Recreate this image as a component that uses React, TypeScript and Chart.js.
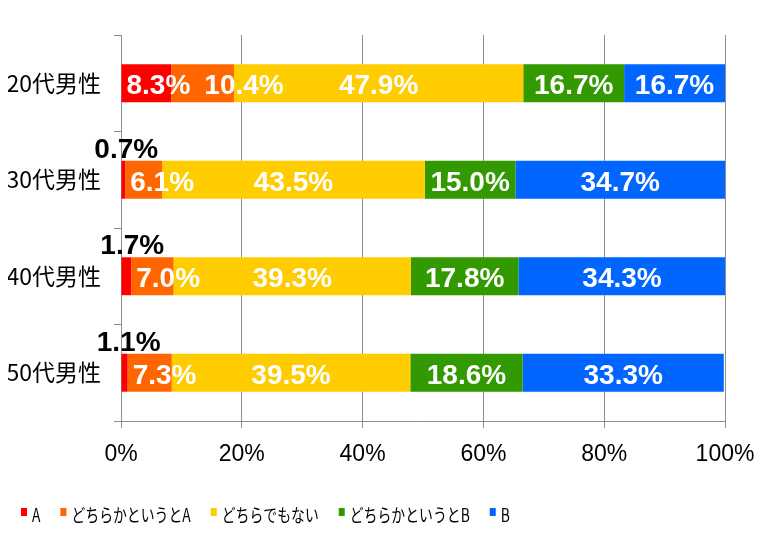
import React, { useEffect, useRef } from 'react';
import { Chart, registerables } from 'chart.js';

Chart.register(...registerables);

const categories = ['20代男性', '30代男性', '40代男性', '50代男性'];
const seriesNames = ['A', 'どちらかというとA', 'どちらでもない', 'どちらかというとB', 'B'];
const valuesA = [8.3, 0.7, 1.7, 1.1];
const valuesLeanA = [10.4, 6.1, 7.0, 7.3];
const valuesNeutral = [47.9, 43.5, 39.3, 39.5];
const valuesLeanB = [16.7, 15.0, 17.8, 18.6];
const valuesB = [16.7, 34.7, 34.3, 33.3];
const xTickValues = [0, 20, 40, 60, 80, 100];
const seriesColors = ['#ff0000', '#ff6600', '#ffcc00', '#339900', '#0066ff'];

const GRID = '#8e8e8e';
const LABEL_FONT = 'bold 28px "Liberation Sans", Arial, sans-serif';
const LEGEND_FONT = '18px "Noto Sans CJK JP", sans-serif';
const LEGEND_SQUEEZE = 0.77;

const valueLabels = {
  id: 'valueLabels',
  afterDatasetsDraw(chart: any) {
    const ctx = chart.ctx;
    ctx.save();
    ctx.font = LABEL_FONT;
    ctx.textAlign = 'left';
    ctx.textBaseline = 'alphabetic';
    const n = chart.data.labels.length;
    for (let j = 0; j < n; j++) {
      let prevEnd = -Infinity;
      chart.data.datasets.forEach((ds: any, i: number) => {
        const el = chart.getDatasetMeta(i).data[j];
        const v = ds.data[j];
        const text = v.toFixed(1) + '%';
        const w = ctx.measureText(text).width;
        const start = Math.min(el.base, el.x);
        const end = Math.max(el.base, el.x);
        const segW = end - start;
        const top = el.y - el.height / 2;
        if (segW < 15) {
          ctx.fillStyle = '#000';
          ctx.fillText(text, end + 1 - w / 2, top - 3);
        } else {
          let left = w + 6 <= segW ? (start + end) / 2 - w / 2 : start + 5;
          left = Math.max(left, prevEnd + 14);
          ctx.fillStyle = '#fff';
          ctx.fillText(text, left, el.y + 11);
          prevEnd = left + w;
        }
      });
    }
    ctx.restore();
  },
};

const bottomLegend = {
  id: 'bottomLegend',
  afterDraw(chart: any) {
    const ctx = chart.ctx;
    ctx.save();
    ctx.font = LEGEND_FONT;
    ctx.textAlign = 'left';
    ctx.textBaseline = 'middle';
    let x = 13;
    const yMid = 507;
    seriesNames.forEach((name, i) => {
      ctx.fillStyle = seriesColors[i];
      ctx.fillRect(x, yMid - 7, 6, 8);
      ctx.fillStyle = '#000';
      ctx.save();
      ctx.translate(x + 11, yMid);
      ctx.scale(LEGEND_SQUEEZE, 1);
      ctx.fillText(name, 0, 0);
      ctx.restore();
      x += 11 + ctx.measureText(name).width * LEGEND_SQUEEZE + 20;
    });
    ctx.restore();
  },
};

export default function App() {
  const ref = useRef<HTMLCanvasElement | null>(null);
  useEffect(() => {
    if (!ref.current) return;
    const seriesValues = [valuesA, valuesLeanA, valuesNeutral, valuesLeanB, valuesB];
    const chart = new Chart(ref.current, {
      type: 'bar',
      data: {
        labels: categories,
        datasets: seriesNames.map((name, i) => ({
          label: name,
          data: seriesValues[i],
          backgroundColor: seriesColors[i],
          borderWidth: 0,
          categoryPercentage: 1,
          barPercentage: 0.393,
        })),
      },
      options: {
        indexAxis: 'y',
        responsive: false,
        devicePixelRatio: 1,
        animation: false,
        layout: { padding: { top: 27, right: 33, bottom: 0, left: 0 } },
        plugins: {
          legend: { display: false },
          tooltip: { enabled: false },
        },
        scales: {
          x: {
            stacked: true,
            min: 0,
            max: 100,
            afterBuildTicks: (s: any) => {
              s.ticks = xTickValues.map((v) => ({ value: v }));
            },
            afterFit: (s: any) => {
              s.height = 121;
              s.paddingRight = 0;
              s.paddingLeft = 0;
            },
            ticks: {
              callback: (v: any) => v + '%',
              color: '#000',
              font: { size: 23, family: '"Liberation Sans", Arial, sans-serif' },
              padding: 13,
              maxRotation: 0,
            },
            grid: { color: GRID, tickLength: 7 },
            border: { color: GRID },
          },
          y: {
            stacked: true,
            afterFit: (s: any) => {
              s.width = 113;
            },
            ticks: {
              color: '#000',
              font: { size: 23, family: '"Noto Sans CJK JP", sans-serif' },
              padding: 13,
            },
            grid: { color: GRID, drawOnChartArea: false, tickLength: 7, offset: true },
            border: { color: GRID },
          },
        },
      },
      plugins: [valueLabels, bottomLegend],
    });
    return () => chart.destroy();
  }, []);
  return (
    <div style={{ width: 750, height: 534 }}>
      <canvas ref={ref} width={750} height={534} />
    </div>
  );
}
